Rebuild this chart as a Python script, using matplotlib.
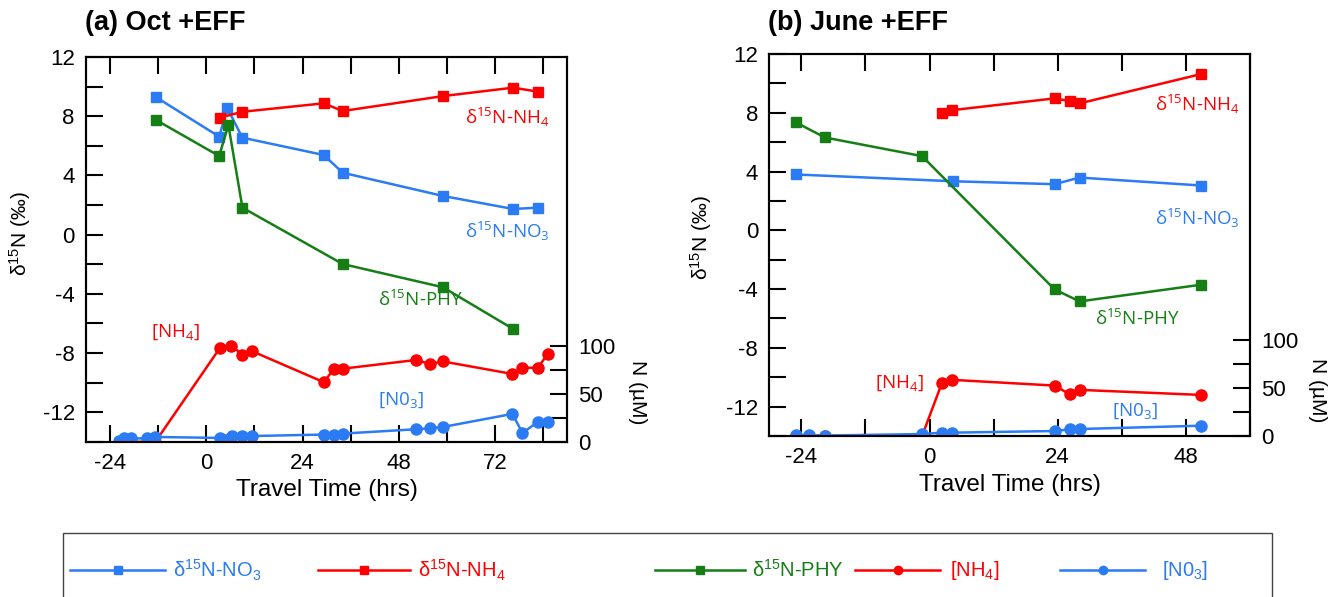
import numpy as np
import matplotlib
matplotlib.use('Agg')
import matplotlib.pyplot as plt
from matplotlib.ticker import MultipleLocator
from matplotlib.lines import Line2D
from matplotlib.patches import Rectangle

plt.rcParams['font.family'] = ['Liberation Sans', 'DejaVu Sans']
plt.rcParams['axes.unicode_minus'] = False

BLUE = '#2B7BF5'
RED = '#FF0000'
GREEN = '#157F15'

# ---- (a) Oct +EFF ----
a_no3_t = [-12.5, 3.2, 5.25, 9, 29.25, 34, 59, 76.5, 82.6]
a_no3_d = [9.28, 6.62, 8.53, 6.55, 5.38, 4.18, 2.61, 1.73, 1.82]
a_nh4_t = [3.3, 9, 29.25, 34, 59, 76.5, 82.6]
a_nh4_d = [7.9, 8.3, 8.87, 8.35, 9.36, 9.93, 9.66]
a_phy_t = [-12.5, 3.2, 5.5, 9, 34, 59, 76.5]
a_phy_d = [7.74, 5.31, 7.4, 1.82, -1.99, -3.56, -6.38]
a_cnh4_t = [-21, -20, -19, -14.5, -12.7, 3.3, 6.25, 9, 11.5, 29.25, 31.9, 34,
            52.2, 55.7, 59, 76.3, 78.8, 82.6, 85.1]
a_cnh4 = [0, 0, 0, 0, 0, 97, 100, 90.5, 94, 62, 76, 76,
          85, 81, 83.5, 70.5, 77, 77, 91]
a_cno3_t = [-21.8, -20.6, -18.9, -14.7, -12.7, 3.3, 4.8, 6.5, 9, 11.5, 29.25, 31.9,
            34, 52.2, 55.7, 59, 76.3, 78.8, 82.6, 85.1]
a_cno3 = [1, 3.5, 3.5, 3.5, 5, 4, 2, 6, 6, 6, 7.5, 7.5,
          8.5, 13, 14, 15.4, 29, 9.2, 20.5, 20.5]

# ---- (b) June +EFF ----
b_no3_t = [-25, 4.4, 23.4, 28.1, 50.9]
b_no3_d = [3.8, 3.34, 3.14, 3.59, 3.05]
b_nh4_t = [2.3, 4.25, 23.4, 26.25, 28.1, 50.9]
b_nh4_d = [8.0, 8.18, 8.98, 8.8, 8.64, 10.64]
b_phy_t = [-25, -19.6, -1.4, 23.4, 28.1, 50.9]
b_phy_d = [7.34, 6.32, 5.05, -4.02, -4.84, -3.7]
b_cnh4_t = [-25, -22.6, -19.6, -1.4, 2.3, 4.25, 23.4, 26.25, 28.1, 50.9]
b_cnh4 = [0.5, 0.5, 0, 0, 55.3, 58.8, 52.8, 43.7, 48.3, 43]
b_cno3_t = [-25, -22.6, -19.6, -1.4, 2.3, 4.25, 23.4, 26.25, 28.1, 50.9]
b_cno3 = [1, 1, 0.5, 2, 3.5, 3.5, 5.2, 7, 7.3, 10.8]

lbl_no3 = r'δ$\mathregular{^{15}}$N-NO$\mathregular{_3}$'
lbl_nh4 = r'δ$\mathregular{^{15}}$N-NH$\mathregular{_4}$'
lbl_phy = r'δ$\mathregular{^{15}}$N-PHY'
lbl_cnh4 = r'[NH$\mathregular{_4}$]'
lbl_cno3 = r'[N0$\mathregular{_3}$]'

ann_font = ['Open Sans', 'DejaVu Sans']
lw = 1.8
ms_sq = 7.5
ms_ci = 8


def style_axes(ax, ax2, xlim, xmaj):
    ax.set_xlim(*xlim)
    ax.set_ylim(-14, 12)
    ax2.set_ylim(0, 400)
    ax.xaxis.set_minor_locator(MultipleLocator(12))
    ax.yaxis.set_minor_locator(MultipleLocator(2))
    ax.set_xticks(xmaj)
    ax.set_yticks([-12, -8, -4, 0, 4, 8, 12])
    ax.tick_params(which='both', direction='in', length=12, width=1.5,
                   top=True, right=False, labelsize=16, pad=8)
    ax2.set_yticks([0, 50, 100])
    ax2.set_yticks([25, 75], minor=True)
    ax2.tick_params(which='both', direction='in', length=12, width=1.5,
                    labelsize=16, pad=8)
    for a in (ax, ax2):
        for s in a.spines.values():
            s.set_linewidth(1.5)
    ax.set_xlabel('Travel Time (hrs)', fontsize=17.5, labelpad=4)
    ax.set_ylabel(r'δ$\mathregular{^{15}}$N (‰)', fontsize=15)
    ax2.set_ylabel('N (µM)', fontsize=15, rotation=270)


fig = plt.figure(figsize=(13.35, 5.97), dpi=100)

# panel a
axa = fig.add_axes([0.0644, 0.260, 0.3606, 0.6445])
axa2 = axa.twinx()
axa.plot(a_no3_t, a_no3_d, '-s', color=BLUE, lw=lw, ms=ms_sq)
axa.plot(a_nh4_t, a_nh4_d, '-s', color=RED, lw=lw, ms=ms_sq)
axa.plot(a_phy_t, a_phy_d, '-s', color=GREEN, lw=lw, ms=ms_sq)
axa2.plot(a_cnh4_t, a_cnh4, '-o', color=RED, lw=lw, ms=ms_ci)
axa2.plot(a_cno3_t, a_cno3, '-o', color=BLUE, lw=lw, ms=ms_ci)
style_axes(axa, axa2, (-30, 90), [-24, 0, 24, 48, 72])
axa.yaxis.set_label_coords(-0.11, 0.54)
axa2.yaxis.set_label_coords(1.165, 0.13)
axa.text(64.4, 7.9, lbl_nh4, color=RED, fontsize=13.5, family=ann_font, va='center')
axa.text(64.4, 0.2, lbl_no3, color=BLUE, fontsize=13.5, family=ann_font, va='center')
axa.text(42.7, -4.4, lbl_phy, color=GREEN, fontsize=13.5, family=ann_font, va='center')
axa.text(-13.8, -6.6, lbl_cnh4, color=RED, fontsize=13.5, family=ann_font, va='center')
axa.text(42.7, -11.2, lbl_cno3, color=BLUE, fontsize=13.5, family=ann_font, va='center')
fig.text(0.0637, 0.962, '(a) Oct +EFF', fontsize=19.5, fontweight='bold', va='center')

# panel b
axb = fig.add_axes([0.5763, 0.2697, 0.36, 0.6398])
axb2 = axb.twinx()
axb.plot(b_no3_t, b_no3_d, '-s', color=BLUE, lw=lw, ms=ms_sq)
axb.plot(b_nh4_t, b_nh4_d, '-s', color=RED, lw=lw, ms=ms_sq)
axb.plot(b_phy_t, b_phy_d, '-s', color=GREEN, lw=lw, ms=ms_sq)
axb2.plot(b_cnh4_t, b_cnh4, '-o', color=RED, lw=lw, ms=ms_ci)
axb2.plot(b_cno3_t, b_cno3, '-o', color=BLUE, lw=lw, ms=ms_ci)
style_axes(axb, axb2, (-30, 60), [-24, 0, 24, 48])
axb.yaxis.set_label_coords(-0.115, 0.52)
axb2.yaxis.set_label_coords(1.16, 0.12)
axb.text(42.2, 8.6, lbl_nh4, color=RED, fontsize=13.5, family=ann_font, va='center')
axb.text(42.2, 0.8, lbl_no3, color=BLUE, fontsize=13.5, family=ann_font, va='center')
axb.text(30.9, -6.0, lbl_phy, color=GREEN, fontsize=13.5, family=ann_font, va='center')
axb.text(-10.3, -10.4, lbl_cnh4, color=RED, fontsize=13.5, family=ann_font, va='center')
axb.text(34.1, -12.3, lbl_cno3, color=BLUE, fontsize=13.5, family=ann_font, va='center')
fig.text(0.575, 0.962, '(b) June +EFF', fontsize=19.5, fontweight='bold', va='center')

# legend (drawn by hand to match the uneven spacing of the original)
W, H = 1335.0, 597.0
fig.add_artist(Rectangle((63 / W, -0.02), (1272 - 63) / W, (597 - 533) / H + 0.02,
                         transform=fig.transFigure, fill=False, edgecolor='#444444', lw=1.0))
leg_entries = [
    (lbl_no3, BLUE, 's', 70, 165, 173),
    (lbl_nh4, RED, 's', 318, 410, 418),
    (lbl_phy, GREEN, 's', 655, 745, 752),
    (lbl_cnh4, RED, 'o', 855, 940, 950),
    (lbl_cno3, BLUE, 'o', 1060, 1145, 1162),
]
ly = 1 - 570 / H
for lab, col, mk, x0, x1, xt in leg_entries:
    fig.add_artist(Line2D([x0 / W, x1 / W], [ly, ly], transform=fig.transFigure,
                          color=col, lw=lw))
    fig.add_artist(Line2D([(x0 + x1) / 2 / W], [ly], transform=fig.transFigure,
                          color=col, marker=mk, ms=6, ls='none'))
    fig.text(xt / W, ly, lab, color=col, fontsize=14.5, va='center')

fig.savefig('out.png', dpi=100)
